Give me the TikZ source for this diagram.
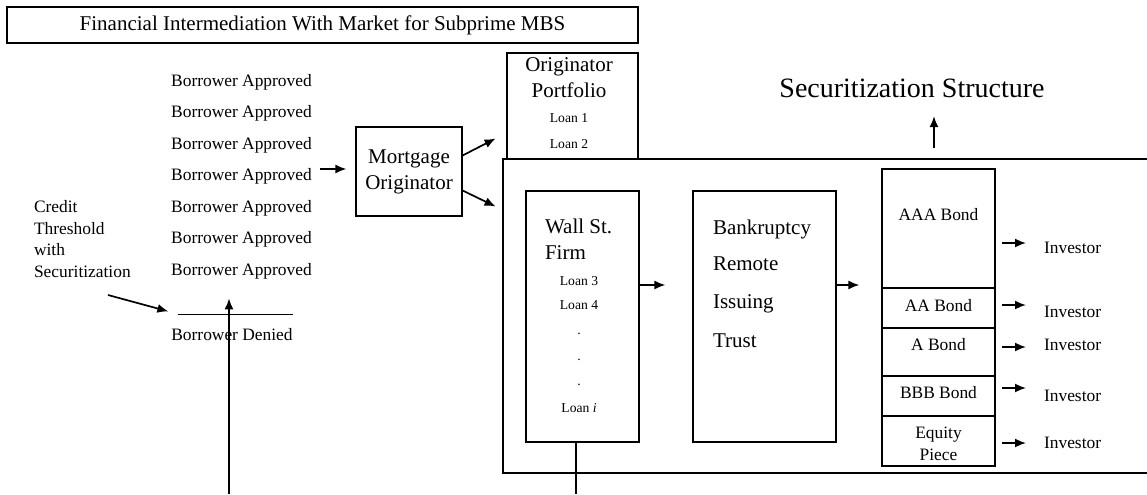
\documentclass[tikz,border=0pt]{standalone}
\usepackage{fontspec}
\setmainfont{Liberation Serif}
\usetikzlibrary{arrows.meta, positioning}
\newcommand{\figArrow}{{Latex[length=5.5pt, width=4.5pt]}}

\begin{document}
\begin{tikzpicture}[x=0.5pt, y=-0.5pt, font=\fontsize{8.7}{10.75}\selectfont,
	box/.style={draw, line width=0.6pt, inner sep=0pt},
	big/.style={font=\fontsize{10.5}{13}\selectfont},
	loan/.style={font=\fontsize{6.8}{8}\selectfont},
	arr/.style={-\figArrow, line width=0.85pt}]
	\useasboundingbox (0,0) rectangle (1147,494);

	\node[box, big, minimum width=315.5pt, minimum height=18pt] (title) at (322.5,25) {Financial Intermediation With Market for Subprime MBS};

	% borrowers
	\foreach \i in {1,...,7}
		\node (appr\i) at (241.5,{82+31.5*(\i-1)}) {Borrower Approved};
	\node[align=left, anchor=west] (credit) at (27,239) {Credit\\Threshold\\with\\Securitization};
	\coordinate (thrL) at (178,314);
	\coordinate (thrR) at (293,314);
	\draw[line width=0.5pt] (thrL) -- (thrR);
	\node (denied) at (232,335) {Borrower Denied};
	\coordinate (creditfoot) at (108,295);
	\draw[arr, shorten >=5pt] (creditfoot) -- (thrL);
	\coordinate (creditbase) at (229,494);
	\draw[arr, shorten >=6.2pt] (creditbase) -- (appr7.south -| creditbase);

	% originator
	\node[box, big, align=center, minimum width=53pt, minimum height=44.5pt] (mo) at (409,171.5) {Mortgage\\Originator};
	\coordinate (mofeed) at (320,169);
	\draw[arr, shorten >=4.5pt] (mofeed) -- (mofeed -| mo.west);
	\node[box, minimum width=65.5pt, minimum height=53pt] (portfolio) at (572.5,106) {};
	\node[big, align=center] (portT) at (569,77.5) {Originator\\Portfolio};
	\node[loan] (loan1) at (569,118) {Loan 1};
	\node[loan] (loan2) at (569,144) {Loan 2};
	\draw[arr] ([yshift=8pt]mo.east) -- ++(33,-17);
	\draw[arr] ([yshift=-9.5pt]mo.east) -- ++(33,16);

	% securitization
	\draw[line width=0.6pt] (1147,159) -- (503,159) -- (503,473) -- (1147,473);
	\node[font=\fontsize{14}{16}\selectfont] (sectitle) at (912,88) {Securitization Structure};
	\coordinate (secfoot) at (934,148);
	\draw[arr, shorten >=5.8pt] (secfoot) -- (sectitle.south -| secfoot);

	\node[box, minimum width=56.5pt, minimum height=125.5pt] (wallst) at (582.5,316.5) {};
	\node[big, align=left, anchor=west] (wallT) at (538,239.5) {Wall St.\\Firm};
	\node[loan] (loan3) at (579,281) {Loan 3};
	\node[loan] (loan4) at (579,305) {Loan 4};
	\foreach \yy [count=\k] in {334,360,385}
		\node[loan] (dot\k) at (579,\yy) {.};
	\node[loan] (loani) at (579,408) {Loan \textit{i}};
	\coordinate (wallfoot) at (576,494);
	\draw[line width=0.6pt] (wallst.south -| wallfoot) -- (wallfoot);

	\node[box, minimum width=71.5pt, minimum height=125.5pt] (trust) at (764.5,316.5) {};
	\foreach \w/\yy [count=\k] in {Bankruptcy/234, Remote/270, Issuing/308, Trust/347}
		\node[big, anchor=base west] (trust\k) at (706,\yy) {\w};

	% tranches
	\foreach \nm/\ya/\yb/\ty/\txt/\ay/\iy in {aaa/169/288/215/AAA Bond/243/248, aa/288/328/306/AA Bond/305/312, a/328/376/345/A Bond/347/345, bbb/376/416/393/BBB Bond/388/396, eq/416/466/444/{Equity\\Piece}/443/443} {
		\node[box, minimum width=56.5pt, minimum height={(\yb-\ya)*0.5pt}] (\nm) at (938.5,{(\ya+\yb)/2}) {};
		\node[align=center] (lbl\nm) at (938.5,\ty) {\txt};
		\node[anchor=west] (inv\nm) at (1037,\iy) {Investor};
		\coordinate (out\nm) at (1002,\ay);
		\draw[arr] (out\nm) -- ++(24,0);
	}
	\draw[arr, shorten >=13.5pt] (wallst.east |- 0,285) -- (trust.west |- 0,285);
	\draw[arr, shorten >=11pt] (trust.east |- 0,285) -- (aaa.west |- 0,285);
\end{tikzpicture}
\end{document}
